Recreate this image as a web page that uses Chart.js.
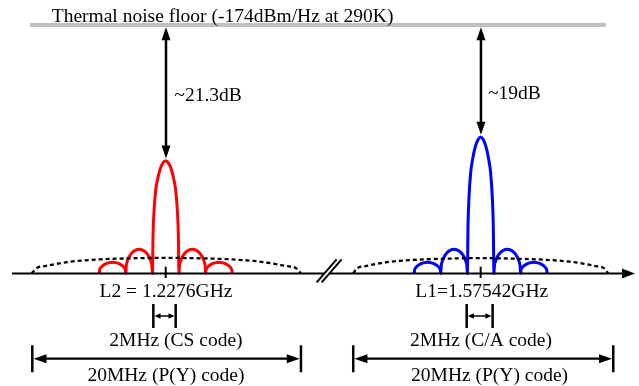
<!DOCTYPE html>
<html><head><meta charset="utf-8">
<script src="https://cdn.jsdelivr.net/npm/chart.js@4"></script>
<style>html,body{margin:0;padding:0;background:#fff;}canvas{display:block;}</style>
</head><body>
<canvas id="c" width="639" height="386"></canvas>
<script>
// Frequency axis of the diagram in MHz (broken axis: L2 carrier drawn at 0, L1 carrier at 23.68)
const carrierPos = [0, 23.68];
const carrierLabels = ['L2 = 1.2276GHz', 'L1=1.57542GHz'];
const peakGapLabels = ['~21.3dB', '~19dB'];
const narrowLabels = ['2MHz (CS code)', '2MHz (C/A code)'];
const wideLabels = ['20MHz (P(Y) code)', '20MHz (P(Y) code)'];
const floorLabel = 'Thermal noise floor (-174dBm/Hz at 290K)';

// Levels in dB relative to the thermal noise floor
const noiseFloorDb = 0;
const axisDb = -39;

// Spectrum sample offsets from the carrier (MHz), shared by both signals
const lobeOffset = [-5,-4.97,-4.9,-4.75,-4.55,-4.3,-4,-3.7,-3.45,-3.25,-3.1,-3.03,
                    -3,-2.97,-2.9,-2.75,-2.55,-2.3,-2,-1.7,-1.45,-1.25,-1.1,-1.03,
                    -1,-0.95,-0.88,-0.75,-0.6,-0.4,-0.2,0,0.2,0.4,0.6,0.75,0.88,0.95,
                    1,1.03,1.1,1.25,1.45,1.7,2,2.3,2.55,2.75,2.9,2.97,
                    3,3.03,3.1,3.25,3.45,3.7,4,4.3,4.55,4.75,4.9,4.97,5];
// L2 (red) level (dB)
const l2Level = [-39,-38.51,-38.16,-37.81,-37.53,-37.34,-37.25,-37.34,-37.53,-37.81,-38.16,-38.51,
                 -39,-37.94,-37.18,-36.42,-35.81,-35.39,-35.2,-35.39,-35.81,-36.42,-37.18,-37.94,
                 -39,-32.81,-29.27,-25.9,-24.13,-22.54,-21.65,-21.3,-21.65,-22.54,-24.13,-25.9,-29.27,-32.81,
                 -39,-37.94,-37.18,-36.42,-35.81,-35.39,-35.2,-35.39,-35.81,-36.42,-37.18,-37.94,
                 -39,-38.51,-38.16,-37.81,-37.53,-37.34,-37.25,-37.34,-37.53,-37.81,-38.16,-38.51,-39];
// L1 (blue) level (dB)
const l1Level = [-39,-38.51,-38.16,-37.81,-37.53,-37.34,-37.25,-37.34,-37.53,-37.81,-38.16,-38.51,
                 -39,-37.94,-37.18,-36.42,-35.81,-35.39,-35.2,-35.39,-35.81,-36.42,-37.18,-37.94,
                 -39,-31.51,-27.23,-23.16,-21.02,-19.1,-18.03,-17.6,-18.03,-19.1,-21.02,-23.16,-27.23,-31.51,
                 -39,-37.94,-37.18,-36.42,-35.81,-35.39,-35.2,-35.39,-35.81,-36.42,-37.18,-37.94,
                 -39,-38.51,-38.16,-37.81,-37.53,-37.34,-37.25,-37.34,-37.53,-37.81,-38.16,-38.51,-39];

// P(Y) code envelopes (dashed)
const envL2Offset = [-10.08,-9.7,-9,-8,-7,-5,-3,0,3,5,7,8,9,9.8,10.17];
const envL2Level = [-39,-38.17,-37.82,-37.43,-37.12,-36.8,-36.65,-36.55,-36.65,-36.8,-37.12,-37.43,-37.82,-38.17,-39];
const envL1Offset = [-9.58,-9.3,-8.65,-7.7,-6.7,-4.8,-2.9,0,2.9,4.8,6.7,7.7,8.65,9.3,9.59];
const envL1Level = [-39,-38.2,-37.85,-37.45,-37.15,-36.85,-36.7,-36.6,-36.7,-36.85,-37.15,-37.45,-37.85,-38.2,-39];

// Bandwidth markers (MHz, relative to carrier)
const narrowSpanL2 = [-0.93, 0.75];
const narrowSpanL1 = [-1.05, 0.9];
const wideSpanL2 = [-10.03, 10.17];
const wideSpanL1 = [-9.58, 9.97];

// Extent of the frequency axis and noise floor line (diagram MHz)
const axisExtent = [-11.56, 35.28];
const floorExtent = [-10.2, 33.1];

const pts = (off, lev, c) => off.map((o, i) => ({x: c + o, y: lev[i]}));

const FONT = '19.5px "Liberation Serif", "Times New Roman", serif';

function head(ctx, tx, ty, dx, dy, len, half) {
  const px = -dy, py = dx;
  ctx.beginPath();
  ctx.moveTo(tx, ty);
  ctx.lineTo(tx - dx * len + px * half, ty - dy * len + py * half);
  ctx.lineTo(tx - dx * len - px * half, ty - dy * len - py * half);
  ctx.closePath();
  ctx.fill();
}

const annot = {
  id: 'annot',
  afterDatasetsDraw(chart) {
    const ctx = chart.ctx, xs = chart.scales.x, ys = chart.scales.y;
    const X = v => xs.getPixelForValue(v), Y = v => ys.getPixelForValue(v);
    ctx.save();
    ctx.fillStyle = '#000'; ctx.strokeStyle = '#000';

    // axis arrowhead
    head(ctx, X(axisExtent[1]), Y(axisDb), 1, 0, 13, 5);

    // axis break marks
    const b1 = [X(11.35), Y(-40.4), X(12.85), Y(-36.8)];
    const sh = 5;
    ctx.fillStyle = '#fff';
    ctx.beginPath();
    ctx.moveTo(b1[0], b1[1]); ctx.lineTo(b1[2], b1[3]);
    ctx.lineTo(b1[2] + sh, b1[3]); ctx.lineTo(b1[0] + sh, b1[1]); ctx.closePath();
    ctx.fill();
    ctx.fillStyle = '#000';
    ctx.lineWidth = 2;
    ctx.beginPath();
    ctx.moveTo(b1[0], b1[1]); ctx.lineTo(b1[2], b1[3]);
    ctx.moveTo(b1[0] + sh, b1[1]); ctx.lineTo(b1[2] + sh, b1[3]);
    ctx.stroke();

    // carrier ticks
    ctx.lineWidth = 2;
    carrierPos.forEach(c => {
      ctx.beginPath();
      ctx.moveTo(X(c), Y(-37.95)); ctx.lineTo(X(c), Y(-39.72));
      ctx.stroke();
    });

    // vertical gap arrows from noise floor to peaks
    const peaks = [Math.max(...l2Level), Math.max(...l1Level)];
    ctx.lineWidth = 2.5;
    carrierPos.forEach((c, i) => {
      const x = X(c) + 0.3;
      const top = Y(noiseFloorDb) + 2.3, bot = Y(peaks[i]) - 2.3;
      ctx.beginPath();
      ctx.moveTo(x, top + 8); ctx.lineTo(x, bot - 8); ctx.stroke();
      head(ctx, x, top, 0, -1, 13, 4.5);
      head(ctx, x, bot, 0, 1, 13, 4.5);
    });

    // bandwidth markers
    function dim(a, b, yc, h, hl, hw, lw) {
      const x1 = X(a), x2 = X(b), y = Y(yc);
      ctx.lineWidth = 2.5;
      ctx.beginPath();
      ctx.moveTo(x1, y - h); ctx.lineTo(x1, y + h);
      ctx.moveTo(x2, y - h); ctx.lineTo(x2, y + h);
      ctx.stroke();
      ctx.lineWidth = lw;
      ctx.beginPath();
      ctx.moveTo(x1 + hl * 0.6, y); ctx.lineTo(x2 - hl * 0.6, y); ctx.stroke();
      head(ctx, x1 + 1.2, y, -1, 0, hl, hw);
      head(ctx, x2 - 1.2, y, 1, 0, hl, hw);
    }
    dim(carrierPos[0] + narrowSpanL2[0], carrierPos[0] + narrowSpanL2[1], -45.68, 12, 6, 2.8, 1.5);
    dim(carrierPos[1] + narrowSpanL1[0], carrierPos[1] + narrowSpanL1[1], -45.68, 12, 6, 2.8, 1.5);
    dim(carrierPos[0] + wideSpanL2[0], carrierPos[0] + wideSpanL2[1], -52.39, 13.5, 13, 4.5, 2.2);
    dim(carrierPos[1] + wideSpanL1[0], carrierPos[1] + wideSpanL1[1], -52.39, 13.5, 13, 4.5, 2.2);

    // texts
    ctx.font = FONT;
    ctx.fillStyle = '#000';
    ctx.textBaseline = 'alphabetic';
    ctx.textAlign = 'left';
    ctx.fillText(floorLabel, X(-8.57), Y(0.5));
    ctx.fillText(peakGapLabels[0], X(0.65), Y(-12.0));
    ctx.fillText(peakGapLabels[1], X(24.23), Y(-11.66));
    ctx.textAlign = 'center';
    ctx.fillText(carrierLabels[0], X(0.02), Y(-42.75));
    ctx.fillText(carrierLabels[1], X(23.76), Y(-42.75));
    ctx.fillText(narrowLabels[0], X(0.77), Y(-50.35));
    ctx.fillText(narrowLabels[1], X(23.71), Y(-50.35));
    ctx.fillText(wideLabels[0], X(0.02), Y(-55.9));
    ctx.fillText(wideLabels[1], X(24.35), Y(-55.9));
    ctx.restore();
  }
};

new Chart(document.getElementById('c'), {
  type: 'line',
  data: {
    datasets: [
      {data: [{x: floorExtent[0], y: noiseFloorDb}, {x: floorExtent[1], y: noiseFloorDb}],
       borderColor: '#c0c0c0', borderWidth: 4, pointRadius: 0, tension: 0},
      {data: [{x: axisExtent[0], y: axisDb}, {x: axisExtent[1] - 0.5, y: axisDb}],
       borderColor: '#000', borderWidth: 2, pointRadius: 0, tension: 0},
      {data: pts(envL2Offset, envL2Level, carrierPos[0]), borderColor: '#000', borderWidth: 2.3,
       borderDash: [4, 3], pointRadius: 0, cubicInterpolationMode: 'monotone'},
      {data: pts(envL1Offset, envL1Level, carrierPos[1]), borderColor: '#000', borderWidth: 2.3,
       borderDash: [4, 3], pointRadius: 0, cubicInterpolationMode: 'monotone'},
      {data: pts(lobeOffset, l2Level, carrierPos[0]), borderColor: '#ff0000', borderWidth: 3,
       pointRadius: 0, cubicInterpolationMode: 'monotone', borderJoinStyle: 'round'},
      {data: pts(lobeOffset, l1Level, carrierPos[1]), borderColor: '#0000ff', borderWidth: 3,
       pointRadius: 0, cubicInterpolationMode: 'monotone', borderJoinStyle: 'round'}
    ]
  },
  options: {
    responsive: false,
    animation: false,
    devicePixelRatio: 1,
    layout: {padding: 0},
    events: [],
    plugins: {legend: {display: false}, tooltip: {enabled: false}},
    scales: {
      x: {type: 'linear', display: false, min: -12.459, max: 35.586},
      y: {type: 'linear', display: false, min: -56.672, max: 3.925}
    }
  },
  plugins: [annot]
});
</script>
</body></html>
